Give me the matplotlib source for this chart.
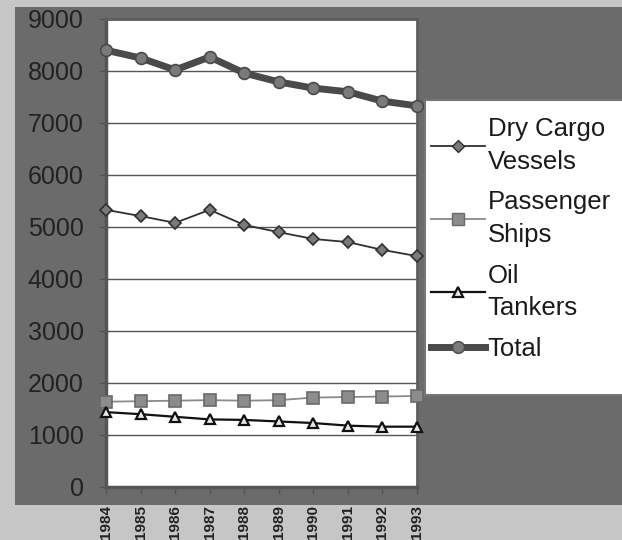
import matplotlib.pyplot as plt
from matplotlib.patches import Rectangle
from matplotlib.lines import Line2D

plt.rcParams['font.family'] = ['Liberation Sans', 'DejaVu Sans']

years = [1984, 1985, 1986, 1987, 1988, 1989, 1990, 1991, 1992, 1993]
dry_cargo = [5330, 5210, 5080, 5330, 5040, 4900, 4770, 4710, 4560, 4440]
passenger = [1640, 1650, 1660, 1670, 1660, 1670, 1720, 1730, 1740, 1750]
oil_tankers = [1440, 1400, 1350, 1300, 1290, 1260, 1230, 1180, 1160, 1160]
total = [8400, 8250, 8020, 8270, 7960, 7790, 7670, 7600, 7420, 7330]
y_ticks = [0, 1000, 2000, 3000, 4000, 5000, 6000, 7000, 8000, 9000]

W, H = 622, 540
fig = plt.figure(figsize=(W / 100, H / 100), dpi=100)
fig.patch.set_facecolor('#c6c6c6')

# dark backdrop panel behind the plot
fig.patches.append(Rectangle((15 / W, 1 - 505 / H), 1, (505 - 7) / H,
                             transform=fig.transFigure, facecolor='#6b6b6b',
                             edgecolor='none', zorder=-10))
# white legend box, running off the right edge
fig.patches.append(Rectangle((425 / W, 1 - 395 / H), 0.5, 295 / H,
                             transform=fig.transFigure, facecolor='white',
                             edgecolor='#777777', lw=1.5, zorder=-5))

ax = fig.add_axes([106 / W, 1 - 487 / H, (417 - 106) / W, (487 - 19) / H])
ax.set_facecolor('white')

ax.plot(years, total, color='#4a4a4a', lw=5, marker='o', ms=8.5,
        mfc='#7a7a7a', mec='#4a4a4a', mew=1.2, clip_on=False, zorder=5)
ax.plot(years, dry_cargo, color='#303030', lw=1.3, marker='D', ms=6.5,
        mfc='#7a7a7a', mec='#303030', mew=1.2, clip_on=False, zorder=5)
ax.plot(years, passenger, color='#8a8a8a', lw=1.3, marker='s', ms=8.5,
        mfc='#8c8c8c', mec='#6a6a6a', mew=1.2, clip_on=False, zorder=5)
ax.plot(years, oil_tankers, color='#111111', lw=1.6, marker='^', ms=7.5,
        mfc='#e8e8e8', mec='#111111', mew=1.6, clip_on=False, zorder=5)

ax.set_xlim(1984, 1993)
ax.set_ylim(0, 9000)
ax.set_yticks(y_ticks)
ax.set_yticklabels([str(v) for v in y_ticks], fontsize=18, color='#222222')
ax.set_xticks(years)
ax.set_xticklabels([str(y) for y in years], rotation=90, fontsize=11,
                   fontweight='bold', color='#222222', va='top')
ax.tick_params(axis='y', length=5, width=1, color='#555555', pad=11)
ax.tick_params(axis='x', length=5, width=1, color='#555555', pad=8)
ax.yaxis.grid(True, color='#555555', lw=1)
ax.set_axisbelow(True)
for side in ['left', 'bottom']:
    ax.spines[side].set_linewidth(2.5)
    ax.spines[side].set_color('#555555')
for side in ['top', 'right']:
    ax.spines[side].set_linewidth(2)
    ax.spines[side].set_color('#5e5e5e')

handles = [
    Line2D([], [], color='#303030', lw=1.3, marker='D', ms=6.5,
           mfc='#7a7a7a', mec='#303030'),
    Line2D([], [], color='#8a8a8a', lw=1.3, marker='s', ms=8.5,
           mfc='#8c8c8c', mec='#6a6a6a'),
    Line2D([], [], color='#111111', lw=1.6, marker='^', ms=7.5,
           mfc='#e8e8e8', mec='#111111', mew=1.6),
    Line2D([], [], color='#4a4a4a', lw=5, marker='o', ms=8.5,
           mfc='#7a7a7a', mec='#4a4a4a'),
]
labels = ['Dry Cargo\nVessels', 'Passenger\nShips', 'Oil\nTankers', 'Total']
leg = fig.legend(handles, labels, loc='upper left',
                 bbox_to_anchor=(431 / W, 1 - 117 / H), frameon=False,
                 fontsize=18.5, handlelength=2.1, handletextpad=0.1,
                 labelspacing=0.65, borderpad=0, borderaxespad=0)
for t in leg.get_texts():
    t.set_linespacing(1.45)
    t.set_color('#1a1a1a')

fig.savefig('out.png', dpi=100, facecolor=fig.get_facecolor())
